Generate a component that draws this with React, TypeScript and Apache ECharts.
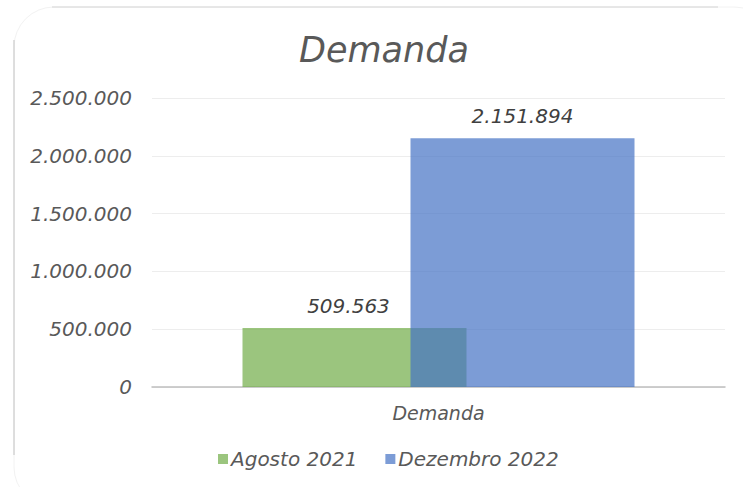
import React, { useEffect, useRef } from "react";
import * as echarts from "echarts";

const categories = ["Demanda"];
const seriesNames = ["Agosto 2021", "Dezembro 2022"];
const agosto2021 = [509563];
const dezembro2022 = [2151894];
const yTicks = [0, 500000, 1000000, 1500000, 2000000, 2500000];

const fmt = (v: number) => String(Math.round(v)).replace(/\B(?=(\d{3})+(?!\d))/g, ".");

export default function App() {
  const ref = useRef<HTMLDivElement>(null);
  useEffect(() => {
    if (!ref.current) return;
    const chart = echarts.init(ref.current, null, { renderer: "svg" });
    const font = "DejaVu Sans";
    chart.setOption({
      animation: false,
      backgroundColor: "#ffffff",
      title: {
        text: "Demanda",
        left: 294,
        top: 27,
        textStyle: { fontFamily: font, fontStyle: "italic", fontWeight: "normal", fontSize: 35, color: "#595959" },
      },
      graphic: [
        { type: "rect", shape: { x: 14, y: 7, width: 760, height: 500, r: 40 }, style: { fill: "none", stroke: "#f2f2f2", lineWidth: 1 }, silent: true },
        { type: "line", shape: { x1: 14, y1: 40, x2: 14, y2: 455 }, style: { stroke: "#d4d4d4", lineWidth: 1.5 }, silent: true },
        { type: "line", shape: { x1: 52, y1: 7, x2: 718, y2: 7 }, style: { stroke: "#e0e0e0", lineWidth: 1.5 }, silent: true },
      ],
      legend: {
        bottom: 13,
        left: 213,
        icon: "rect",
        itemWidth: 10,
        itemHeight: 10,
        itemGap: 28,
        data: seriesNames,
        textStyle: { fontFamily: font, fontStyle: "italic", fontSize: 20, color: "#595959", padding: [0, 0, 0, -2] },
      },
      grid: { left: 152, right: 18, top: 98, bottom: 100, containLabel: false },
      xAxis: {
        type: "category",
        data: categories,
        axisLine: { lineStyle: { color: "#bfbfbf", width: 1.5 } },
        axisTick: { show: false },
        axisLabel: { fontFamily: font, fontStyle: "italic", fontSize: 19, color: "#595959", margin: 16 },
      },
      yAxis: {
        type: "value",
        min: yTicks[0],
        max: yTicks[yTicks.length - 1],
        interval: 500000,
        axisLine: { show: false },
        axisTick: { show: false },
        splitLine: { lineStyle: { color: "#ededed", width: 1 } },
        axisLabel: { fontFamily: font, fontStyle: "italic", fontSize: 20, color: "#595959", margin: 20, formatter: (v: number) => fmt(v) },
      },
      series: [
        {
          name: seriesNames[0],
          type: "bar",
          data: agosto2021,
          barWidth: 224,
          barGap: "-25%",
          itemStyle: { color: "rgba(112,173,71,0.7)" },
          label: { show: true, position: "top", distance: 12, offset: [-6, 0], fontFamily: font, fontStyle: "italic", fontSize: 20, color: "#404040", formatter: (p: any) => fmt(p.value) },
        },
        {
          name: seriesNames[1],
          type: "bar",
          data: dezembro2022,
          barWidth: 224,
          barGap: "-25%",
          itemStyle: { color: "rgba(68,114,196,0.7)" },
          label: { show: true, position: "top", distance: 12, fontFamily: font, fontStyle: "italic", fontSize: 20, color: "#404040", formatter: (p: any) => fmt(p.value) },
        },
      ],
    });
    return () => chart.dispose();
  }, []);
  return <div ref={ref} style={{ width: 743, height: 487, position: "absolute", left: 0, top: 0 }} />;
}
